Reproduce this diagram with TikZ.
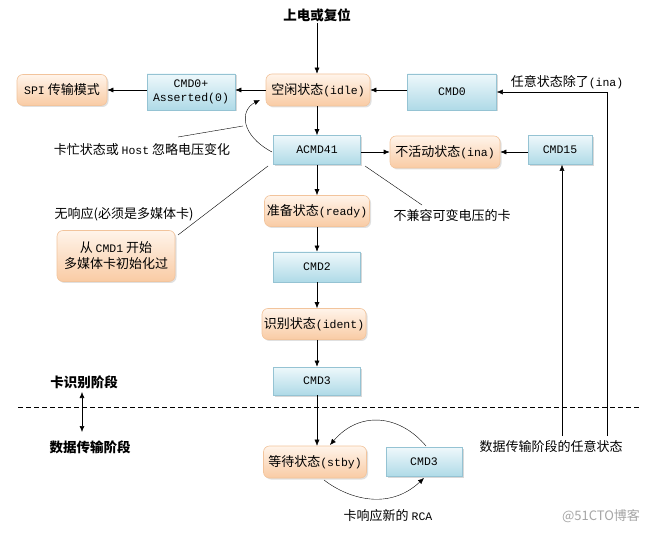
\documentclass[tikz,border=0pt]{standalone}
\usepackage{fontspec}
\setmainfont{Noto Sans CJK SC}
\newfontfamily\monof{Liberation Mono}
\newcommand{\lat}[1]{{\monof\fontsize{11.5}{15}\selectfont #1}}
\usetikzlibrary{arrows.meta,shadows}
\definecolor{btop}{HTML}{EEF8FB}
\definecolor{bbot}{HTML}{AFDAE7}
\definecolor{bdraw}{HTML}{95C3D3}
\definecolor{otop}{HTML}{FFF4EA}
\definecolor{obot}{HTML}{F9CBA4}
\definecolor{odraw}{HTML}{F2C49C}
\begin{document}
\begin{tikzpicture}[x=1pt,y=-1pt,
  every node/.style={font=\fontsize{13}{16}\selectfont, inner sep=1pt},
  bluebox/.style={draw=bdraw, top color=btop, bottom color=bbot, line width=0.6pt,
    drop shadow={shadow xshift=1.5pt, shadow yshift=-1.5pt, fill=black!25, opacity=0.6}, align=center,
    font=\monof\fontsize{11.5}{14.5}\selectfont},
  orabox/.style={draw=odraw, top color=otop, bottom color=obot, rounded corners=6pt, line width=0.6pt,
    drop shadow={shadow xshift=1.5pt, shadow yshift=-1.5pt, fill=black!20, opacity=0.6}, align=center},
  arr/.style={-{Latex[length=6pt,width=5pt]}, line width=0.6pt},
  thinline/.style={line width=0.4pt},
  boldlbl/.style={font=\fontsize{13.5}{16}\selectfont\bfseries}
]
\useasboundingbox (0,0) rectangle (661,534);
\fill[white] (0,0) rectangle (661,534);

% title
\node[boldlbl] (title) at (317,15) {上电或复位};

% main column
\node[orabox, minimum width=104pt, minimum height=32pt] (idle) at (318,90) {空闲状态\lat{(idle)}};
\node[bluebox, minimum width=88pt, minimum height=36pt] (cmd0p) at (191,92) {CMD0+\\Asserted(0)};
\node[orabox, minimum width=90pt, minimum height=31pt] (spi) at (62,90) {\lat{SPI} 传输模式};
\node[bluebox, minimum width=89pt, minimum height=36pt] (cmd0) at (452,92) {CMD0};
\node (anyl) at (567,82) {任意状态除了\lat{(ina)}};

\node[bluebox, minimum width=87pt, minimum height=29pt] (acmd41) at (317,150) {ACMD41};
\node[orabox, minimum width=110pt, minimum height=32pt] (ina) at (445,152) {不活动状态\lat{(ina)}};
\node[bluebox, minimum width=64pt, minimum height=29pt] (cmd15) at (560,150) {CMD15};

\node[orabox, minimum width=105pt, minimum height=31pt] (ready) at (317,211) {准备状态\lat{(ready)}};
\node[bluebox, minimum width=87pt, minimum height=30pt] (cmd2) at (317,267) {CMD2};
\node[orabox, minimum width=104pt, minimum height=31pt] (ident) at (314,324) {识别状态\lat{(ident)}};
\node[bluebox, minimum width=87pt, minimum height=28pt] (cmd3a) at (317,381) {CMD3};

\node[orabox, minimum width=103pt, minimum height=32pt] (stby) at (315,462) {等待状态\lat{(stby)}};
\node[bluebox, minimum width=76pt, minimum height=29pt] (cmd3b) at (424,462) {CMD3};
\node (rca) at (388,516) {卡响应新的 \lat{RCA}};

% left side labels
\node (busy) at (142,150) {卡忙状态或 \lat{Host} 忽略电压变化};
\node (noresp) at (124,214) {无响应(必须是多媒体卡)};
\node[orabox, minimum width=118pt, minimum height=51pt] (mmc) at (116,256) {从 \lat{CMD1} 开始\\多媒体卡初始化过};
\node (incomp) at (452,216) {不兼容可变电压的卡};

\node[boldlbl] (phase1) at (84,382) {卡识别阶段};
\node[boldlbl] (phase2) at (90,447) {数据传输阶段};
\node (anyd) at (551,447) {数据传输阶段的任意状态};
\node[text=black!35, font=\fontsize{13}{15}\selectfont] (wm) at (601,516) {@51CTO博客};

% dashed separator
\coordinate (dl) at (18,407);
\coordinate (dr) at (641,407);
\draw[line width=0.8pt, dash pattern=on 5pt off 3pt] (dl) -- (dr);

% vertical arrows in column
\draw[arr] (title.south) -- (idle.north -| title.south);
\draw[arr] (idle.south -| acmd41.north) -- (acmd41.north);
\draw[arr] (acmd41.south) -- (ready.north -| acmd41.south);
\draw[arr] (ready.south -| cmd2.north) -- (cmd2.north);
\draw[arr] (cmd2.south) -- (ident.north -| cmd2.south);
\draw[arr] (ident.south -| cmd3a.north) -- (cmd3a.north);
\draw[arr, thinline] (cmd3a.south) -- (stby.north -| cmd3a.south);

% horizontal arrows
\draw[arr] (idle.west) -- (idle.west -| cmd0p.east);
\draw[arr] (cmd0p.west |- spi.east) -- (spi.east);
\draw[arr] (cmd0.west |- idle.east) -- (idle.east);
\draw[arr] (acmd41.east |- ina.west) -- (ina.west);
\draw[arr] (cmd15.west |- ina.east) -- (ina.east);

% right side returns
\coordinate (r1) at (607,436);
\coordinate (r2) at (562,436);
\draw[arr, thinline] (r1) |- (cmd0.east);
\draw[arr, thinline] (r2) -- (r2 |- cmd15.south);

% curved arrow ACMD41 -> idle
\coordinate (cs) at (272,152);
\coordinate (ce) at (260,100);
\draw[arr, thinline] (cs) .. controls (240,135) and (240,110) .. (ce);
\coordinate (b1) at (178,137);
\coordinate (b2) at (243,126);
\draw[thinline] (b1) -- (b2);

% callout lines
\coordinate (m1) at (178,235);
\coordinate (m2) at (268,166);
\draw[thinline] (m1) -- (m2);
\coordinate (i1) at (365,166);
\coordinate (i2) at (422,205);
\draw[thinline] (i1) -- (i2);

% bottom loop
\coordinate (l1) at (426,446);
\coordinate (l2) at (330,445);
\draw[arr, thinline] (l1) .. controls (400,415) and (360,410) .. (l2);
\coordinate (l3) at (324,480);
\coordinate (l4) at (424,478);
\draw[arr, thinline] (l3) .. controls (350,500) and (390,510) .. (l4);

% phase double arrow
\coordinate (p1) at (82,392);
\coordinate (p2) at (82,432);
\draw[{Latex[length=6pt,width=5pt]}-{Latex[length=6pt,width=5pt]}, line width=0.6pt] (p1) -- (p2);
\end{tikzpicture}
\end{document}
